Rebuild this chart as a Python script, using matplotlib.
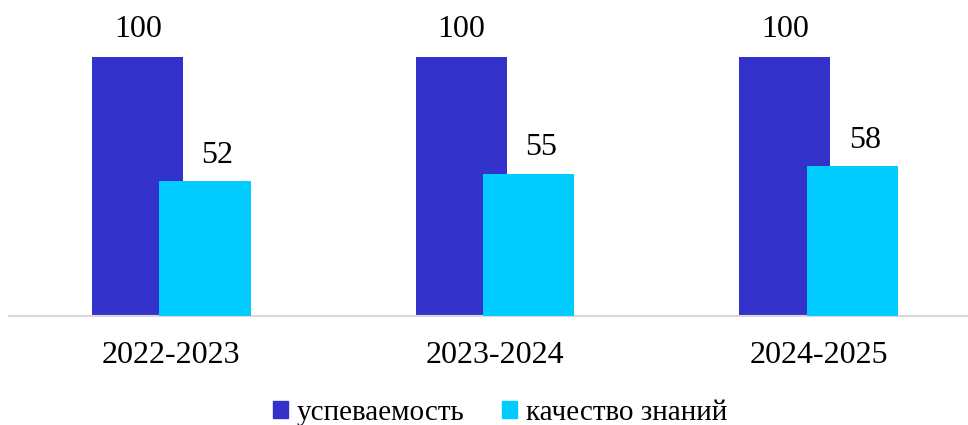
import matplotlib
matplotlib.use("Agg")
import matplotlib.pyplot as plt
from matplotlib.patches import Patch
import numpy as np

categories = ["2022-2023", "2023-2024", "2024-2025"]
uspevaemost = [100, 100, 100]
kachestvo = [52, 55, 58]
series_names = ["успеваемость", "качество знаний"]

plt.rcParams['font.family'] = ['Liberation Serif', 'DejaVu Serif']

W, H = 968, 425
fig = plt.figure(figsize=(W/100, H/100), dpi=100)
ax = fig.add_axes([9/W, (H-316)/H, (W-9)/W, 310.8/H])

x = np.arange(len(categories))
w = 0.282
off = 0.104
c1, c2 = "#3333CC", "#00CCFF"
b1 = ax.bar(x - off, uspevaemost, w, color=c1, zorder=2)
b2 = ax.bar(x + off, kachestvo, w, color=c2, zorder=3)

for r, v in zip(b1, uspevaemost):
    ax.annotate(f"{v}", (r.get_x() + r.get_width()/2, v), xytext=(0, 9.5),
                textcoords="offset points", ha="center", va="bottom", fontsize=23)
for r, v in zip(b2, kachestvo):
    ax.annotate(f"{v}", (r.get_x() + r.get_width()/2, v), xytext=(9, 8),
                textcoords="offset points", ha="center", va="bottom", fontsize=23)

ax.set_xlim(-0.502, 2.462)
ax.set_ylim(0, 120)
ax.set_xticks(x)
ax.set_xticklabels(categories, fontsize=23)
ax.tick_params(axis='x', length=0, pad=18)
ax.set_yticks([])
for s in ["top", "right", "left"]:
    ax.spines[s].set_visible(False)
ax.spines["bottom"].set_color("#D9D9D9")
ax.spines["bottom"].set_linewidth(1.5)

handles = [Patch(color=c1), Patch(color=c2)]
fig.legend(handles, series_names, loc="center", bbox_to_anchor=(500/W, 1 - 413/H),
           ncol=2, frameon=False, fontsize=21, handlelength=0.52, handleheight=0.52,
           handletextpad=0.3, columnspacing=1.3, borderpad=0.1)

fig.savefig("out.png", dpi=100)
